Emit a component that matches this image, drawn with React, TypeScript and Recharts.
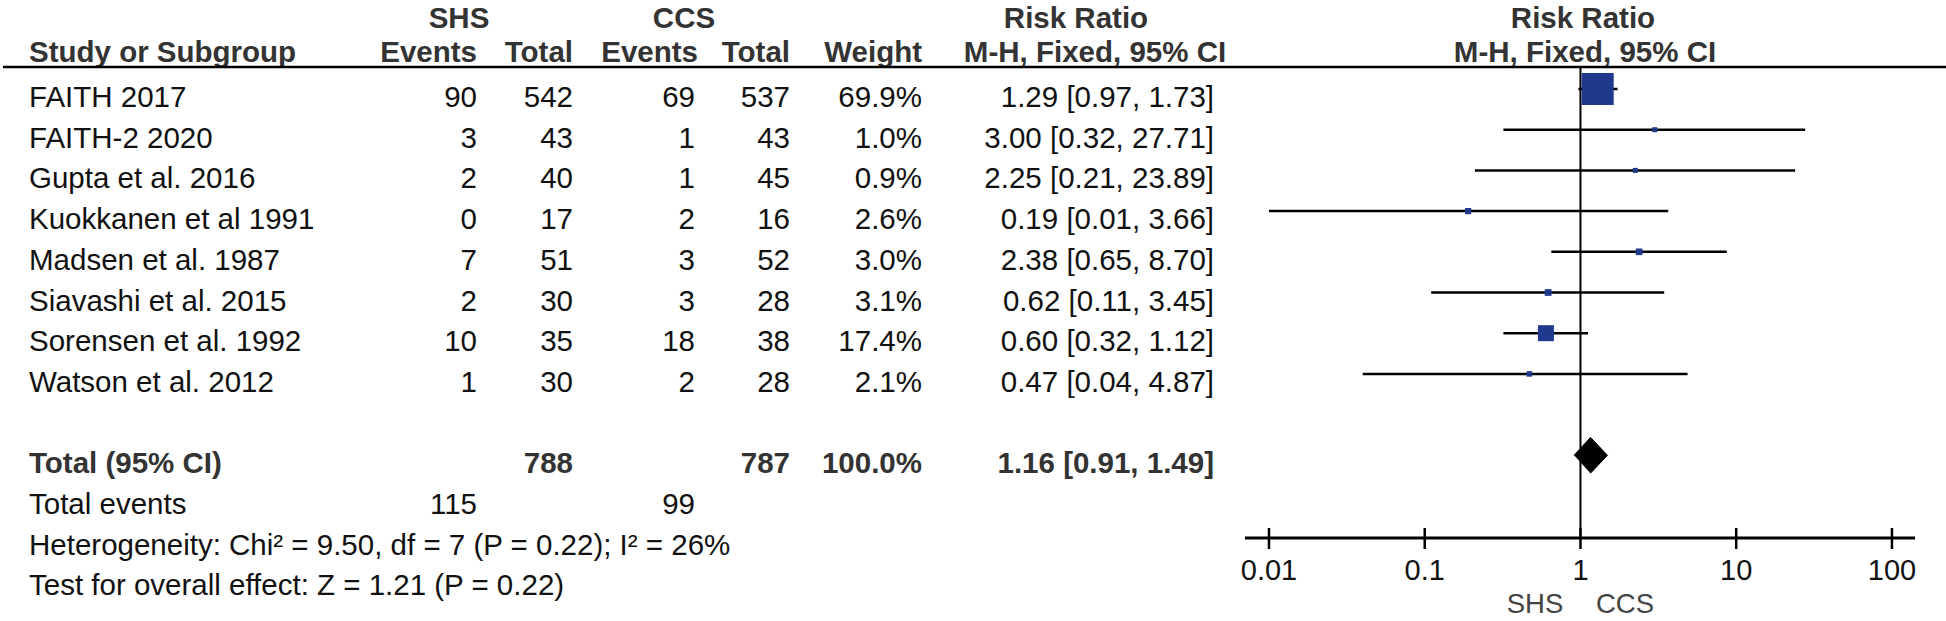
import React from 'react';
import { ComposedChart, Scatter, XAxis, YAxis, ErrorBar, ReferenceLine } from 'recharts';

// study rows
const studies = [
  'FAITH 2017',
  'FAITH-2 2020',
  'Gupta et al. 2016',
  'Kuokkanen et al 1991',
  'Madsen et al. 1987',
  'Siavashi et al. 2015',
  'Sorensen et al. 1992',
  'Watson et al. 2012',
];
const shsEvents = [90, 3, 2, 0, 7, 2, 10, 1];
const shsTotal = [542, 43, 40, 17, 51, 30, 35, 30];
const ccsEvents = [69, 1, 1, 2, 3, 3, 18, 2];
const ccsTotal = [537, 43, 45, 16, 52, 28, 38, 28];
const weights = [69.9, 1.0, 0.9, 2.6, 3.0, 3.1, 17.4, 2.1];
const riskRatio = [1.29, 3.0, 2.25, 0.19, 2.38, 0.62, 0.6, 0.47];
const ciLow = [0.97, 0.32, 0.21, 0.01, 0.65, 0.11, 0.32, 0.04];
const ciHigh = [1.73, 27.71, 23.89, 3.66, 8.7, 3.45, 1.12, 4.87];

// pooled
const totalRow = 9;
const totalRR = 1.16;
const totalLow = 0.91;
const totalHigh = 1.49;
const totalShsEvents = 115;
const totalCcsEvents = 99;
const totalShs = 788;
const totalCcs = 787;

const xTicks = [0.01, 0.1, 1, 10, 100];

const FONT = '"Liberation Sans", Arial, sans-serif';
const FS = 29.5;
const BOLD_COLOR = '#333';
const SQUARE_COLOR = '#1f3a8c';

const fmt = (v: number) => v.toFixed(2);
const ciText = (r: number, l: number, h: number) => `${fmt(r)} [${fmt(l)}, ${fmt(h)}]`;

const studyData = studies.map((name, i) => ({
  name,
  x: riskRatio[i],
  y: i,
  w: weights[i],
  err: [riskRatio[i] - ciLow[i], ciHigh[i] - riskRatio[i]],
}));

const DIAMOND_HALF = 0.44;
const diamondData = [
  { x: totalLow, y: totalRow },
  { x: totalRR, y: totalRow - DIAMOND_HALF },
  { x: totalHigh, y: totalRow },
  { x: totalRR, y: totalRow + DIAMOND_HALF },
];

const rowBase = (i: number) => 107 + i * 40.7;

// square area follows the study weight
const Square = (props: any) => {
  const { cx, cy, payload } = props;
  const side = Math.max(5, 32 * Math.sqrt(payload.w / 69.9));
  return <rect x={cx - side / 2} y={cy - side / 2} width={side} height={side} fill={SQUARE_COLOR} />;
};

const Tick = (props: any) => {
  const { x, y, payload } = props;
  return (
    <g>
      <line x1={x} x2={x} y1={y - 10} y2={y + 11} stroke="#000" strokeWidth={2.5} />
      <text x={x} y={y + 42} textAnchor="middle" fontSize={29} fontFamily={FONT} fill="#111">
        {String(payload.value)}
      </text>
    </g>
  );
};

const cols = { shsE: 477, shsT: 573, ccsE: 695, ccsT: 790, weight: 922, rr: 1214 };

const Table = () => {
  const t = (x: number, y: number, s: string | number, anchor = 'end', bold = false) => (
    <text
      x={x}
      y={y}
      textAnchor={anchor as any}
      fontSize={FS}
      fontFamily={FONT}
      fontWeight={bold ? 'bold' : 'normal'}
      fill={bold ? BOLD_COLOR : '#111'}
    >
      {s}
    </text>
  );
  return (
    <svg width={1946} height={621} style={{ position: 'absolute', left: 0, top: 0, pointerEvents: 'none' }}>
      {/* header */}
      {t(459, 28, 'SHS', 'middle', true)}
      {t(684, 28, 'CCS', 'middle', true)}
      {t(1076, 28, 'Risk Ratio', 'middle', true)}
      {t(1583, 28, 'Risk Ratio', 'middle', true)}
      {t(29, 62, 'Study or Subgroup', 'start', true)}
      {t(cols.shsE, 62, 'Events', 'end', true)}
      {t(cols.shsT, 62, 'Total', 'end', true)}
      {t(cols.ccsE + 3, 62, 'Events', 'end', true)}
      {t(cols.ccsT, 62, 'Total', 'end', true)}
      {t(cols.weight, 62, 'Weight', 'end', true)}
      {t(1095, 62, 'M-H, Fixed, 95% CI', 'middle', true)}
      {t(1585, 62, 'M-H, Fixed, 95% CI', 'middle', true)}
      <line x1={3} x2={1946} y1={67} y2={67} stroke="#000" strokeWidth={2.5} />

      {studies.map((s, i) => (
        <g key={s}>
          {t(29, rowBase(i), s, 'start')}
          {t(cols.shsE, rowBase(i), shsEvents[i])}
          {t(cols.shsT, rowBase(i), shsTotal[i])}
          {t(cols.ccsE, rowBase(i), ccsEvents[i])}
          {t(cols.ccsT, rowBase(i), ccsTotal[i])}
          {t(cols.weight, rowBase(i), `${weights[i].toFixed(1)}%`)}
          {t(cols.rr, rowBase(i), ciText(riskRatio[i], ciLow[i], ciHigh[i]))}
        </g>
      ))}

      {t(29, rowBase(9), 'Total (95% CI)', 'start', true)}
      {t(cols.shsT, rowBase(9), totalShs, 'end', true)}
      {t(cols.ccsT, rowBase(9), totalCcs, 'end', true)}
      {t(cols.weight, rowBase(9), '100.0%', 'end', true)}
      {t(cols.rr, rowBase(9), ciText(totalRR, totalLow, totalHigh), 'end', true)}

      {t(29, rowBase(10), 'Total events', 'start')}
      {t(cols.shsE, rowBase(10), totalShsEvents)}
      {t(cols.ccsE, rowBase(10), totalCcsEvents)}
      {t(29, rowBase(11), 'Heterogeneity: Chi² = 9.50, df = 7 (P = 0.22); I² = 26%', 'start')}
      {t(29, rowBase(12), 'Test for overall effect: Z = 1.21 (P = 0.22)', 'start')}

      <text x={1535} y={613} textAnchor="middle" fontSize={27.5} fontFamily={FONT} fill="#444">SHS</text>
      <text x={1625} y={613} textAnchor="middle" fontSize={27.5} fontFamily={FONT} fill="#444">CCS</text>
    </svg>
  );
};

export default function App() {
  return (
    <div style={{ position: 'relative', width: 1946, height: 621, background: '#fff' }}>
      <style>{'body{margin:0;}'}</style>
      <ComposedChart width={1946} height={621} margin={{ top: 68, right: 31, bottom: 0, left: 1245 }}>
        <XAxis
          dataKey="x"
          type="number"
          scale="log"
          domain={[Math.pow(10, -2.154), Math.pow(10, 2.148)]}
          ticks={xTicks}
          allowDataOverflow
          height={83}
          tickSize={0}
          tickMargin={0}
          tickLine={false}
          axisLine={{ stroke: '#000', strokeWidth: 3 }}
          tick={<Tick />}
          interval={0}
        />
        <YAxis dataKey="y" type="number" domain={[-0.516, 11.032]} reversed hide allowDataOverflow />
        <ReferenceLine x={1} stroke="#000" strokeWidth={2} />
        <Scatter data={studyData} shape={<Square />} isAnimationActive={false}>
          <ErrorBar dataKey="err" direction="x" width={0} stroke="#000" strokeWidth={2.5} isAnimationActive={false} />
        </Scatter>
        <Scatter
          data={diamondData}
          shape={() => <g />}
          line={{ fill: '#000', stroke: '#000', strokeWidth: 1 }}
          lineType="joint"
          isAnimationActive={false}
        />
      </ComposedChart>
      <Table />
    </div>
  );
}
